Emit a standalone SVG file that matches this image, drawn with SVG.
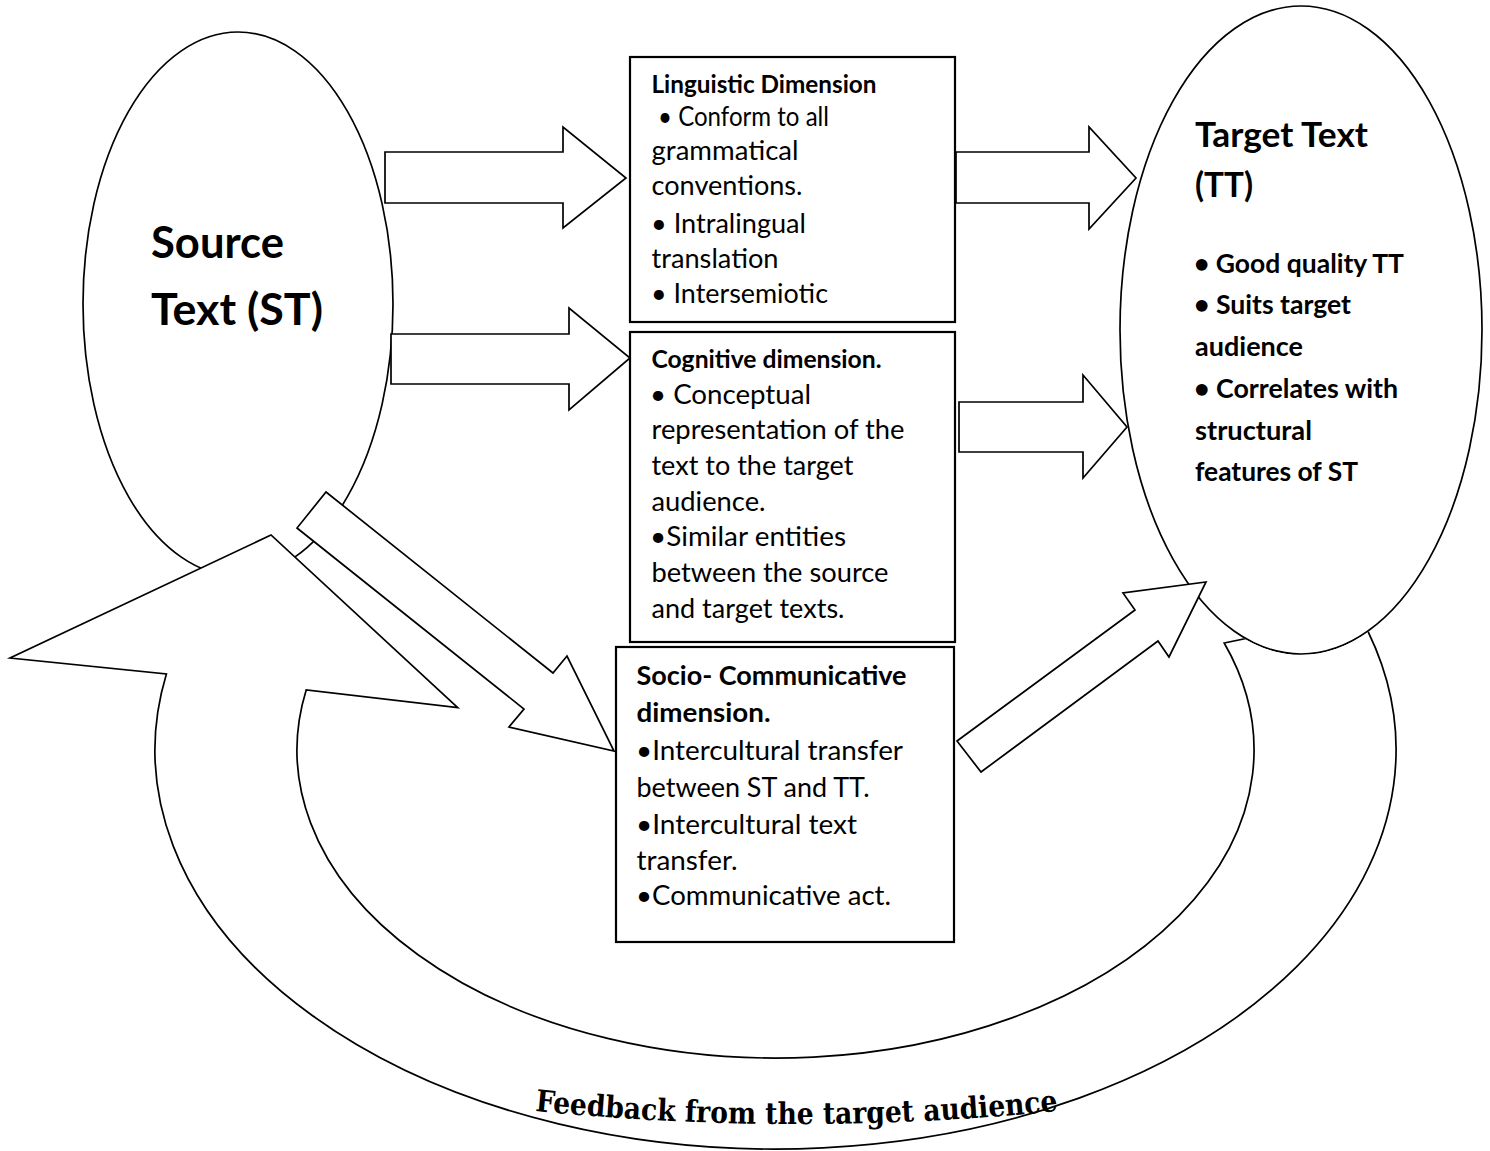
<svg xmlns="http://www.w3.org/2000/svg" width="1490" height="1151" viewBox="0 0 1490 1151">
<style>
.shape{fill:#fff;stroke:#000;stroke-width:1.7;stroke-linejoin:miter}
.box{fill:#fff;stroke:#000;stroke-width:2.2}
.t{font-family:Lato,"Liberation Sans",sans-serif;font-size:27px;fill:#000}
.h1{font-weight:700;font-size:24.5px}
.h3{font-weight:700;font-size:27px}
.big{font-weight:700;font-size:44px}
.tth{font-weight:700;font-size:34px}
.ttb{font-weight:700;font-size:27px}
.fb{font-family:"DejaVu Serif","Liberation Serif",serif;font-weight:700;font-size:30px;fill:#000}
</style>
<defs>
<mask id="hideTarget" maskUnits="userSpaceOnUse" x="0" y="0" width="1490" height="1151">
<rect x="0" y="0" width="1490" height="1151" fill="#fff"/>
<ellipse cx="1301" cy="330" rx="182" ry="325" fill="#000"/>
</mask>
<path id="fbPath" d="M 535 1111 Q 796 1137 1058 1111"/>
</defs>

<g id="node-source">
<ellipse class="shape" cx="238" cy="304" rx="155" ry="272"/>
<text class="t big" x="151" y="258" textLength="133" lengthAdjust="spacingAndGlyphs">Source</text>
<text class="t big" x="151" y="325" textLength="172" lengthAdjust="spacingAndGlyphs">Text (ST)</text>
</g>

<g id="node-target">
<ellipse class="shape" cx="1301" cy="330" rx="181" ry="324"/>
<text class="t tth" x="1195" y="147" textLength="173" lengthAdjust="spacingAndGlyphs">Target Text</text>
<text class="t tth" x="1195" y="197" textLength="58" lengthAdjust="spacingAndGlyphs">(TT)</text>
<text class="t ttb" x="1194" y="273" textLength="210" lengthAdjust="spacingAndGlyphs">• Good quality TT</text>
<text class="t ttb" x="1194" y="314" textLength="157" lengthAdjust="spacingAndGlyphs">• Suits target</text>
<text class="t ttb" x="1195" y="356" textLength="108" lengthAdjust="spacingAndGlyphs">audience</text>
<text class="t ttb" x="1194" y="398" textLength="204" lengthAdjust="spacingAndGlyphs">• Correlates with</text>
<text class="t ttb" x="1195" y="440" textLength="117" lengthAdjust="spacingAndGlyphs">structural</text>
<text class="t ttb" x="1195" y="481" textLength="163" lengthAdjust="spacingAndGlyphs">features of ST</text>
</g>

<g id="node-linguistic">
<rect class="box" x="630" y="57" width="325" height="265"/>
<text class="t h1" x="651.5" y="93" textLength="225" lengthAdjust="spacingAndGlyphs">Linguistic Dimension</text>
<text class="t" x="658" y="126" textLength="171" lengthAdjust="spacingAndGlyphs">• Conform to all</text>
<text class="t" x="651.5" y="159.5" textLength="147" lengthAdjust="spacingAndGlyphs">grammatical</text>
<text class="t" x="651.5" y="194.5" textLength="151" lengthAdjust="spacingAndGlyphs">conventions.</text>
<text class="t" x="651" y="232.5" textLength="155" lengthAdjust="spacingAndGlyphs">• Intralingual</text>
<text class="t" x="651.5" y="267.5" textLength="127" lengthAdjust="spacingAndGlyphs">translation</text>
<text class="t" x="651" y="303" textLength="177" lengthAdjust="spacingAndGlyphs">• Intersemiotic</text>
</g>

<g id="node-cognitive">
<rect class="box" x="630" y="332" width="325" height="310"/>
<text class="t h1" x="651.5" y="368" textLength="230" lengthAdjust="spacingAndGlyphs">Cognitive dimension.</text>
<text class="t" x="650" y="404" textLength="161" lengthAdjust="spacingAndGlyphs">•  Conceptual</text>
<text class="t" x="651.5" y="439" textLength="253" lengthAdjust="spacingAndGlyphs">representation of the</text>
<text class="t" x="651.5" y="474.5" textLength="202" lengthAdjust="spacingAndGlyphs">text to the target</text>
<text class="t" x="651.5" y="510.5" textLength="114" lengthAdjust="spacingAndGlyphs">audience.</text>
<text class="t" x="650" y="546" textLength="196" lengthAdjust="spacingAndGlyphs">•Similar entities</text>
<text class="t" x="651.5" y="582" textLength="237" lengthAdjust="spacingAndGlyphs">between the source</text>
<text class="t" x="651.5" y="617.5" textLength="193" lengthAdjust="spacingAndGlyphs">and target texts.</text>
</g>

<g id="node-socio">
<rect class="box" x="616" y="647" width="338" height="295"/>
<text class="t h3" x="636.5" y="685" textLength="270" lengthAdjust="spacingAndGlyphs">Socio- Communicative</text>
<text class="t h3" x="636.5" y="721.5" textLength="134" lengthAdjust="spacingAndGlyphs">dimension.</text>
<text class="t" x="636" y="760" textLength="267" lengthAdjust="spacingAndGlyphs">•Intercultural transfer</text>
<text class="t" x="636.5" y="796.5" textLength="233" lengthAdjust="spacingAndGlyphs">between ST and TT.</text>
<text class="t" x="636" y="834" textLength="221" lengthAdjust="spacingAndGlyphs">•Intercultural text</text>
<text class="t" x="636.5" y="869.5" textLength="101" lengthAdjust="spacingAndGlyphs">transfer.</text>
<text class="t" x="636" y="905" textLength="255" lengthAdjust="spacingAndGlyphs">•Communicative act.</text>
</g>

<g id="connectors">
<path id="feedback-arrow" class="shape" mask="url(#hideTarget)" d="M 1224.2 643 L 1359.4 615 A 620.5 399 0 1 1 166.4 674 L 10 658 L 271 535 L 457.7 707.7 L 306.2 690 A 478.5 308 0 1 0 1224.2 643 Z"/>
<text class="fb"><textPath href="#fbPath" textLength="524" lengthAdjust="spacingAndGlyphs">Feedback from the target audience</textPath></text>
<polygon id="arrow-st-ling" class="shape" points="385,152 563,152 563,127 626,178 563,228 563,203 385,203"/>
<polygon id="arrow-st-cog" class="shape" points="391,334 569,334 569,308 630,358 569,410 569,384 391,384"/>
<polygon id="arrow-st-socio" class="shape" points="326,492 553,673 567,656 614,751 509,727 524,709 297,528"/>
<polygon id="arrow-ling-tt" class="shape" points="956,152 1089,152 1089,127 1136,178 1089,229 1089,203 956,203"/>
<polygon id="arrow-cog-tt" class="shape" points="959,402 1083,402 1083,375 1127,427 1083,478 1083,452 959,452"/>
<polygon id="arrow-socio-tt" class="shape" points="957,741 1135,610 1123,593 1206,582 1169,657 1158,641 981,772"/>
</g>
</svg>
